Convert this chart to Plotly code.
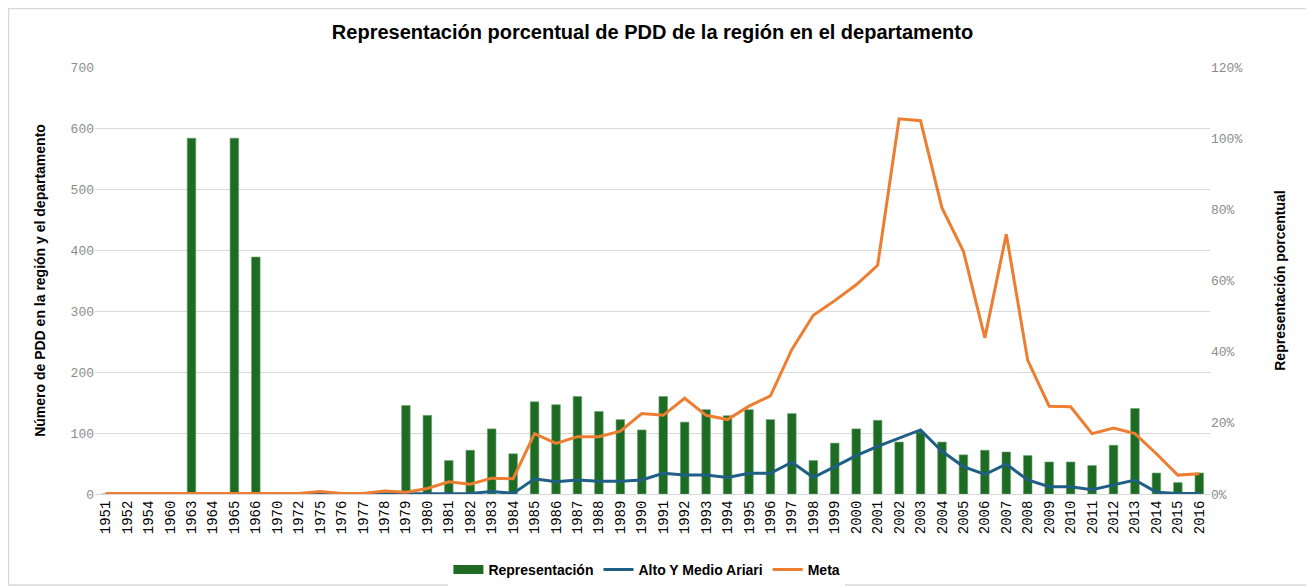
import plotly.graph_objects as go

years = ["1951", "1952", "1954", "1960", "1963", "1964", "1965", "1966", "1970", "1972",
         "1975", "1976", "1977", "1978"] + [str(y) for y in range(1979, 2017)]

# Representación (share, right axis)
representacion = [0, 0, 0, 0, 1.00, 0, 1.00, 0.666, 0, 0,
                  0, 0, 0, 0,
                  0.249, 0.221, 0.094, 0.123, 0.183, 0.113, 0.259, 0.251, 0.274, 0.232,
                  0.209, 0.180, 0.274, 0.202, 0.237, 0.220, 0.237, 0.209, 0.226, 0.094,
                  0.143, 0.183, 0.207, 0.146, 0.174, 0.146, 0.110, 0.123, 0.118, 0.108,
                  0.090, 0.090, 0.080, 0.137, 0.240, 0.059, 0.032, 0.059]

# Alto Y Medio Ariari (count, left axis)
alto_medio_ariari = [0, 0, 0, 0, 0, 0, 0, 0, 0, 0,
                     1, 0, 0, 1,
                     1, 1, 1, 1, 4, 1, 25, 20, 23, 21,
                     21, 23, 34, 31, 31, 27, 34, 34, 52, 27,
                     45, 63, 78, 92, 105, 70, 45, 32, 49, 23,
                     12, 12, 7, 15, 23, 3, 1, 1]

# Meta (count, left axis)
meta = [1, 1, 1, 1, 1, 1, 1, 2, 1, 1,
        4, 1, 1, 5,
        3, 9, 20, 16, 26, 25, 99, 83, 94, 94,
        103, 132, 129, 157, 129, 122, 144, 161, 237, 293,
        317, 343, 375, 615, 612, 469, 398, 256, 426, 219,
        144, 143, 99, 108, 99, 66, 31, 33]

narrow = "Liberation Sans Narrow, Arial Narrow, Liberation Sans, sans-serif"
mono = "Liberation Mono, DejaVu Sans Mono, monospace"
GREEN = "#1e6b24"

fig = go.Figure()
fig.add_trace(go.Bar(
    x=years, y=representacion, name="Representación", yaxis="y", showlegend=False,
    marker=dict(color=GREEN, line=dict(color="#6aa36e", width=0.6)),
))
# legend entry for the bars (wide rectangle symbol, as in the original)
fig.add_trace(go.Scatter(
    x=[None], y=[None], name="Representación", yaxis="y", mode="lines",
    line=dict(color=GREEN, width=9), showlegend=True,
))
fig.add_trace(go.Scatter(
    x=years, y=alto_medio_ariari, name="Alto Y Medio Ariari", yaxis="y2",
    mode="lines", line=dict(color="#1f5f86", width=3),
))
fig.add_trace(go.Scatter(
    x=years, y=meta, name="Meta", yaxis="y2",
    mode="lines", line=dict(color="#ed7d31", width=3),
))

fig.update_layout(
    width=1306, height=580,
    margin=dict(l=87, r=104, t=59, b=94, autoexpand=False),
    paper_bgcolor="white", plot_bgcolor="white",
    title=dict(text="<b>Representación porcentual de PDD de la región en el departamento</b>",
               x=0.5, xref="paper", xanchor="center", y=0.958, yanchor="middle",
               font=dict(family=narrow, size=20, color="black")),
    bargap=0.6,
    showlegend=True,
    legend=dict(orientation="h", x=0.495, xanchor="center", xref="paper",
                y=-0.14, yanchor="top", yref="paper",
                font=dict(family=narrow, size=14, color="black", weight="bold"),
                tracegroupgap=0),
    xaxis=dict(type="category", tickangle=-90, showgrid=False,
               tickfont=dict(family=mono, size=14, color="black"),
               showline=True, linecolor="#d9d9d9", ticks=""),
    yaxis=dict(side="right", range=[0, 1.2], tickvals=[0, 0.2, 0.4, 0.6, 0.8, 1.0, 1.2],
               tickformat=".0%", showgrid=False, zeroline=False,
               tickfont=dict(family=mono, size=13, color="#8c8c8c"),
               title=dict(text="<b>Representación porcentual</b>",
                          font=dict(family=narrow, size=14, color="black"), standoff=33)),
    yaxis2=dict(side="left", overlaying="y", range=[0, 700], dtick=100,
                showgrid=True, gridcolor="#d9d9d9", gridwidth=1, zeroline=False,
                tickfont=dict(family=mono, size=13, color="#8c8c8c"),
                title=dict(text="<b>Número de PDD en la región y el departamento</b>",
                           font=dict(family=narrow, size=14, color="black"), standoff=21)),
    shapes=[dict(type="rect", xref="paper", yref="paper",
                 x0=-0.0776, x1=1.0906, y0=-0.213, y1=1.137,
                 line=dict(color="#d9d9d9", width=1.5), fillcolor="rgba(0,0,0,0)", layer="below")],
)

fig.write_html("out.html")
